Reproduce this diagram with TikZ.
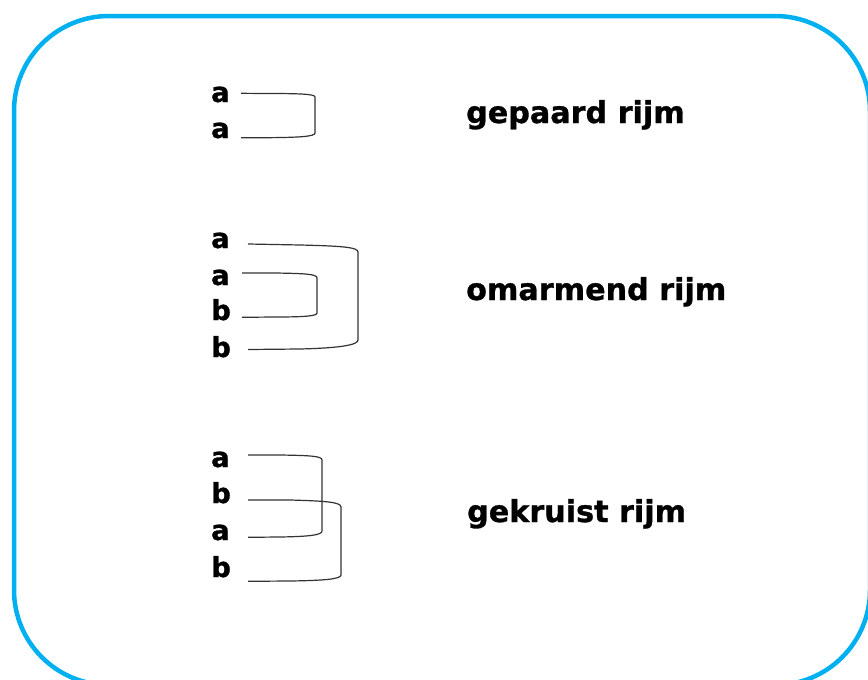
\documentclass[tikz,border=0pt]{standalone}
\usepackage{fontspec}
\setmainfont{DejaVu Sans}[BoldFeatures={FakeBold=1}]
\definecolor{framecol}{RGB}{0,176,240}
\begin{document}
\begin{tikzpicture}[x=1pt,y=-1pt,
  lbl/.style={font=\bfseries\fontsize{27.5}{32}\selectfont, inner sep=0pt, anchor=base west},
  ttl/.style={font=\bfseries\fontsize{30.2}{34}\selectfont, inner sep=0pt, anchor=base west},
  con/.style={line width=1.2pt, draw=black!80}]
\useasboundingbox (0,0) rectangle (868,680);
\begin{scope}
\clip (0,0) rectangle (868,680);
\draw[line width=4.5pt, draw=framecol, rounded corners=95pt] (14,16) rectangle (870,685);
\end{scope}
% group 1
\node[lbl] (g1a) at (211,102) {a};
\node[lbl] (g1b) at (211,138) {a};
% group 2
\node[lbl] (g2a) at (211,248) {a};
\node[lbl] (g2b) at (211,285) {a};
\node[lbl] (g2c) at (211,320) {b};
\node[lbl] (g2d) at (211,357) {b};
% group 3
\node[lbl] (g3a) at (211,467) {a};
\node[lbl] (g3b) at (211,503) {b};
\node[lbl] (g3c) at (211,540) {a};
\node[lbl] (g3d) at (211,577) {b};
% titles
\node[ttl] (t1) at (466,123) {gepaard rijm};
\node[ttl] (t2) at (466,300) {omarmend rijm};
\node[ttl] (t3) at (467,522) {gekruist rijm};
% bracket end points
\coordinate (b1s) at (241,93.3);
\coordinate (b1e) at (241,137.7);
\coordinate (b2s) at (248,244);
\coordinate (b2e) at (248,349.5);
\coordinate (b3s) at (242,273);
\coordinate (b3e) at (242,317.3);
\coordinate (b4s) at (248,455);
\coordinate (b4e) at (248,537.3);
\coordinate (b5s) at (248,500);
\coordinate (b5e) at (248,581.3);
% brackets
\draw[con] (b1s) -- (265,93.5) .. controls (300,93.5) and (315,94) .. (315,97) -- (315,133) .. controls (315,136.5) and (300,137.5) .. (265,137.7) -- (b1e);
\draw[con] (b2s) -- (300,245) .. controls (340,246) and (358,247) .. (358,252) -- (358,340) .. controls (358,345) and (340,348) .. (300,349) -- (b2e);
\draw[con] (b3s) -- (275,273) .. controls (305,273.5) and (317,274) .. (317,278) -- (317,313) .. controls (317,316) and (305,317) .. (275,317) -- (b3e);
\draw[con] (b4s) -- (280,455) .. controls (310,455.5) and (322,456) .. (322,460) -- (322,531) .. controls (322,535) and (310,536.5) .. (280,537) -- (b4e);
\draw[con] (b5s) -- (290,500) .. controls (325,501) and (341,502) .. (341,507) -- (341,575) .. controls (341,579) and (325,580.5) .. (290,581) -- (b5e);
\end{tikzpicture}
\end{document}
